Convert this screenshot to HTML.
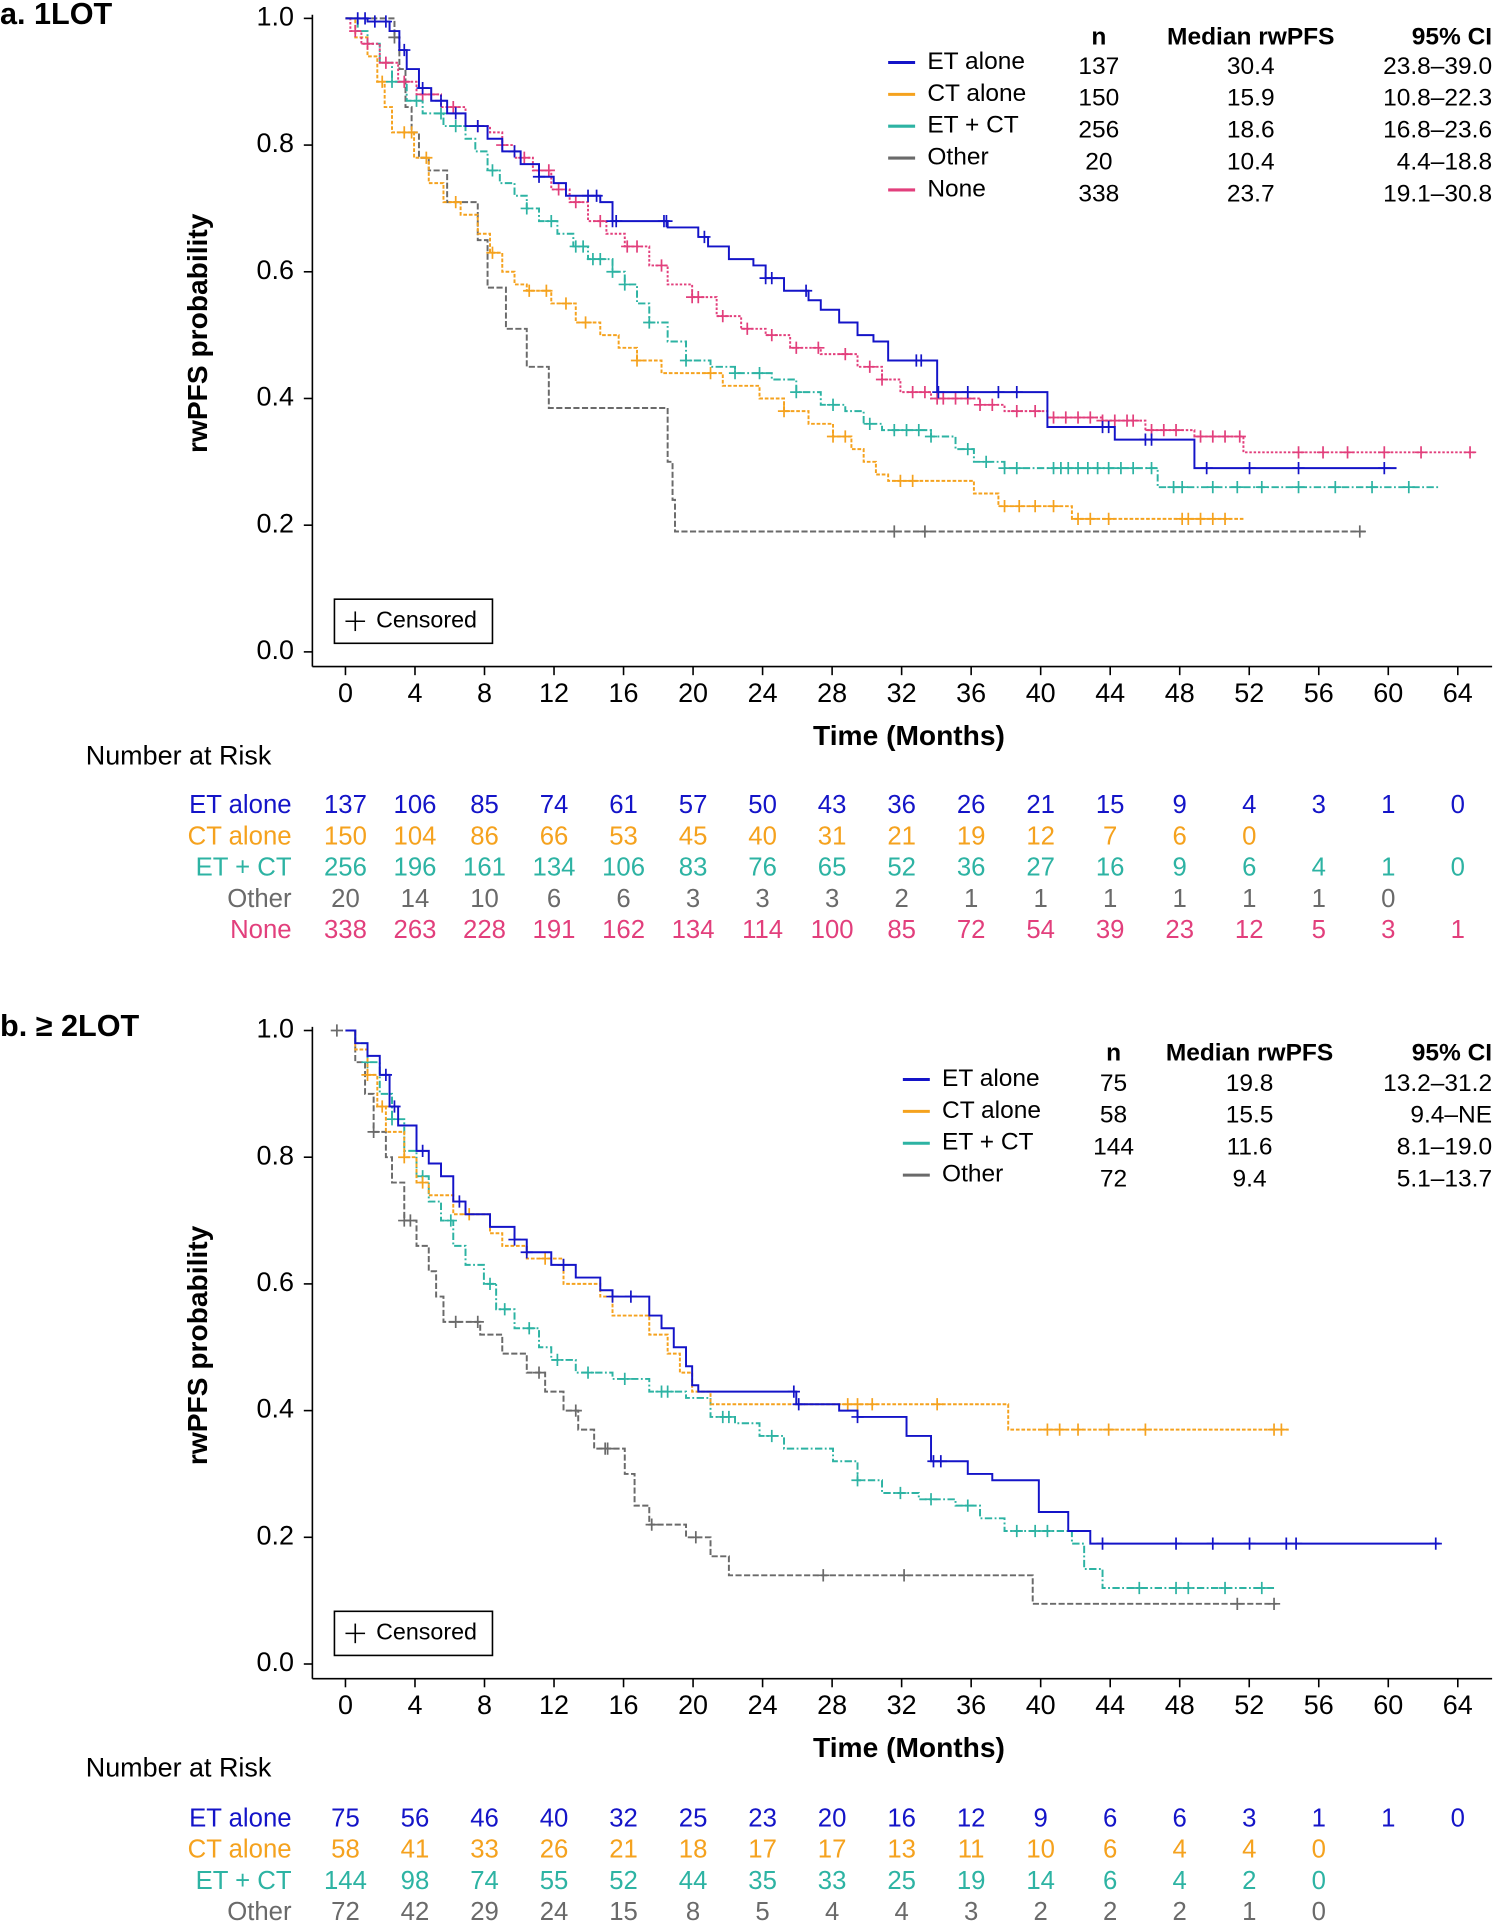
<!DOCTYPE html>
<html><head><meta charset="utf-8"><style>
html,body{margin:0;padding:0;background:#fff}
svg{display:block}
text{font-family:"Liberation Sans",Arial,sans-serif}
</style></head><body>
<svg id="s" width="1497" height="1925" viewBox="0 0 1222 1571" preserveAspectRatio="none" xmlns="http://www.w3.org/2000/svg">
</svg>
<script>
const NS="http://www.w3.org/2000/svg";const S=document.getElementById('s');
function el(n,a,t){const e=document.createElementNS(NS,n);for(const k in a)e.setAttribute(k,a[k]);if(t!==undefined)e.textContent=t;S.appendChild(e);return e;}
function txt(x,y,s,o){o=o||{};return el('text',Object.assign({x:x,y:y,'font-size':o.fs||20,fill:o.fill||'#000','text-anchor':o.a||'middle','font-weight':o.b?'bold':'normal','dominant-baseline':'middle'},o.extra||{}),s);}
const C={b:'#1414c8',o:'#f5a21e',t:'#2db3a3',g:'#6a6a6a',p:'#e23f7c'};
const D={b:'',o:'3,1.5',t:'6,2,1.5,2',g:'5,2',p:'2,1.5'};
function tx(t){return 282+14.1875*t;}
function panel(off,title,legend,risk,curves){
  const y0=532+off, H=517;
  const Y=v=>y0-v*H;
  txt(0,13+off,title,{a:'start',fs:25,b:true});
  el('line',{x1:255,y1:Y(1)-3,x2:255,y2:y0+12,stroke:'#000','stroke-width':1.3});
  el('line',{x1:255,y1:y0+12,x2:1218,y2:y0+12,stroke:'#000','stroke-width':1.3});
  for(let i=0;i<=5;i++){const v=i/5,y=Y(v);el('line',{x1:248,y1:y,x2:255,y2:y,stroke:'#000','stroke-width':1.3});txt(240,y,v.toFixed(1),{a:'end',fs:22});}
  for(let t=0;t<=64;t+=4){const x=tx(t);el('line',{x1:x,y1:y0+12,x2:x,y2:y0+19,stroke:'#000','stroke-width':1.3});txt(x,y0+35,String(t),{fs:22});}
  txt(742,y0+70,'Time (Months)',{fs:23,b:true});
  txt(163,272+off,'rwPFS probability',{fs:23,b:true,extra:{transform:`rotate(-90 163 ${272+off})`}});
  el('rect',{x:273,y:489+off,width:129,height:36,fill:'#fff',stroke:'#000','stroke-width':1.3});
  el('line',{x1:282,y1:507+off,x2:298,y2:507+off,stroke:'#000','stroke-width':1.3});
  el('line',{x1:290,y1:499+off,x2:290,y2:515+off,stroke:'#000','stroke-width':1.3});
  txt(307,507+off,'Censored',{a:'start',fs:19});
  const L=legend;
  txt(L.nx,L.hy,'n',{fs:20,b:true});txt(L.mx,L.hy,'Median rwPFS',{fs:20,b:true});txt(1218,L.hy,'95% CI',{fs:20,b:true,a:'end'});
  L.rows.forEach((r,i)=>{const y=L.ry+i*26;el('line',{x1:L.lx,y1:y,x2:L.lx+22,y2:y,stroke:C[r[0]],'stroke-width':2.5});
    txt(L.lx+32,y,r[1],{a:'start',fs:20});txt(L.nx,y+4,r[2],{fs:20});txt(L.mx,y+4,r[3],{fs:20});txt(1218,y+4,r[4],{fs:20,a:'end'});});
  curves.forEach(c=>{
    const p=c.pts;let d=`M${282},${Y(1)}`;
    for(const [x,v] of p){d+=` H${x} V${Y(v)}`;}
    d+=` H${c.end}`;
    el('path',{d:d,fill:'none',stroke:C[c.k],'stroke-width':1.6,'stroke-dasharray':D[c.k]});
    const sAt=x=>{let v=1;for(const [px,pv] of p){if(px<=x)v=pv;}return v;};
    (c.cen||[]).forEach(x=>{const y=Y(sAt(x));el('path',{d:`M${x-5},${y}H${x+5}M${x},${y-5}V${y+5}`,stroke:C[c.k],'stroke-width':1.4,fill:'none'});});
  });
  txt(70,risk.hy,'Number at Risk',{a:'start',fs:22});
  risk.rows.forEach((r,i)=>{const y=risk.ry+i*25.5;txt(238,y,r[1],{a:'end',fs:21,fill:C[r[0]]});
    r[2].forEach((v,j)=>{txt(tx(j*4),y,String(v),{fs:21,fill:C[r[0]]});});});
}
panel(0,'a. 1LOT',
 {nx:897,mx:1021,hy:31,ry:51,lx:725,rows:[['b','ET alone','137','30.4','23.8–39.0'],['o','CT alone','150','15.9','10.8–22.3'],['t','ET + CT','256','18.6','16.8–23.6'],['g','Other','20','10.4','4.4–18.8'],['p','None','338','23.7','19.1–30.8']]},
 {hy:618,ry:658,rows:[
  ['b','ET alone',[137,106,85,74,61,57,50,43,36,26,21,15,9,4,3,1,0]],
  ['o','CT alone',[150,104,86,66,53,45,40,31,21,19,12,7,6,0]],
  ['t','ET + CT',[256,196,161,134,106,83,76,65,52,36,27,16,9,6,4,1,0]],
  ['g','Other',[20,14,10,6,6,3,3,3,2,1,1,1,1,1,1,0]],
  ['p','None',[338,263,228,191,162,134,114,100,85,72,54,39,23,12,5,3,1]]]},
 [
 {k:'g',end:1115,pts:[[322,0.97],[326,0.92],[331,0.86],[336,0.82],[342,0.78],[350,0.76],[365,0.71],[390,0.65],[398,0.575],[413,0.51],[430,0.45],[448,0.385],[545,0.3],[549,0.24],[551,0.19]],cen:[322,730,755,1110]},
 {k:'o',end:1015,pts:[[290,0.97],[300,0.94],[308,0.9],[314,0.86],[320,0.82],[338,0.78],[350,0.74],[362,0.71],[376,0.69],[390,0.66],[400,0.63],[410,0.6],[420,0.58],[430,0.57],[450,0.55],[470,0.52],[490,0.5],[505,0.48],[520,0.46],[540,0.44],[590,0.42],[620,0.4],[640,0.38],[660,0.36],[680,0.34],[695,0.32],[705,0.3],[715,0.28],[725,0.27],[795,0.25],[815,0.23],[875,0.21]],cen:[312,330,336,348,372,402,432,446,462,478,520,580,640,680,690,735,745,820,832,845,860,880,890,905,965,970,980,990,1000]},
 {k:'t',end:1175,pts:[[292,0.98],[300,0.96],[310,0.93],[320,0.9],[332,0.87],[345,0.85],[362,0.83],[380,0.81],[388,0.79],[398,0.76],[408,0.74],[420,0.72],[430,0.7],[440,0.68],[455,0.66],[468,0.64],[480,0.62],[500,0.6],[510,0.58],[520,0.55],[530,0.52],[545,0.49],[560,0.46],[580,0.45],[600,0.44],[630,0.43],[650,0.41],[670,0.39],[690,0.38],[705,0.36],[720,0.35],[760,0.34],[780,0.32],[795,0.3],[820,0.29],[945,0.26]],cen:[320,340,360,372,402,430,450,470,476,484,490,500,510,530,560,600,620,650,680,710,730,740,750,760,790,805,820,830,860,866,872,880,888,896,905,915,925,940,958,965,990,1010,1030,1060,1090,1120,1150]},
 {k:'p',end:1205,pts:[[286,0.98],[295,0.96],[310,0.93],[325,0.9],[340,0.88],[360,0.86],[380,0.83],[400,0.82],[410,0.8],[420,0.78],[435,0.76],[450,0.73],[465,0.71],[480,0.68],[495,0.66],[510,0.64],[530,0.61],[545,0.58],[565,0.56],[585,0.53],[605,0.51],[625,0.5],[645,0.48],[670,0.47],[700,0.45],[720,0.43],[735,0.41],[760,0.4],[800,0.39],[820,0.38],[855,0.37],[900,0.365],[935,0.35],[975,0.34],[1015,0.315]],cen:[290,300,315,330,345,352,370,390,410,428,440,448,456,470,490,512,520,540,565,570,590,610,630,650,668,690,710,720,745,755,765,770,780,790,800,810,830,845,860,870,880,890,900,910,920,925,940,950,960,980,990,1000,1012,1060,1080,1100,1130,1160,1200]},
 {k:'b',end:1140,pts:[[300,0.995],[318,0.98],[326,0.95],[332,0.92],[342,0.89],[352,0.87],[365,0.85],[380,0.83],[398,0.81],[410,0.79],[425,0.77],[440,0.75],[452,0.74],[462,0.72],[490,0.71],[500,0.68],[545,0.67],[570,0.655],[578,0.64],[595,0.62],[615,0.61],[625,0.59],[640,0.57],[660,0.555],[670,0.54],[685,0.52],[700,0.5],[713,0.49],[725,0.46],[765,0.41],[855,0.355],[910,0.335],[975,0.29]],cen:[292,298,306,315,330,345,360,372,390,420,440,480,487,500,503,542,544,575,625,630,658,748,752,766,790,815,830,900,905,935,940,985,1020,1060,1130]}
 ]);
panel(826,'b. ≥ 2LOT',
 {nx:909,mx:1020,hy:860,ry:881,lx:737,rows:[['b','ET alone','75','19.8','13.2–31.2'],['o','CT alone','58','15.5','9.4–NE'],['t','ET + CT','144','11.6','8.1–19.0'],['g','Other','72','9.4','5.1–13.7']]},
 {hy:1444,ry:1485,rows:[
  ['b','ET alone',[75,56,46,40,32,25,23,20,16,12,9,6,6,3,1,1,0]],
  ['o','CT alone',[58,41,33,26,21,18,17,17,13,11,10,6,4,4,0]],
  ['t','ET + CT',[144,98,74,55,52,44,35,33,25,19,14,6,4,2,0]],
  ['g','Other',[72,42,29,24,15,8,5,4,4,3,2,2,2,1,0]]]},
 [
 {k:'g',end:1042,pts:[[290,0.95],[298,0.9],[305,0.84],[315,0.8],[320,0.76],[330,0.7],[340,0.66],[350,0.62],[356,0.58],[362,0.54],[392,0.52],[410,0.49],[430,0.46],[445,0.43],[460,0.4],[472,0.37],[485,0.34],[510,0.3],[518,0.25],[530,0.22],[560,0.2],[580,0.17],[595,0.14],[843,0.095]],cen:[275,305,330,335,372,390,440,470,494,496,532,568,672,738,1010,1040]},
 {k:'t',end:1040,pts:[[290,0.98],[300,0.95],[310,0.9],[320,0.86],[330,0.81],[340,0.77],[350,0.73],[360,0.7],[370,0.66],[380,0.63],[395,0.6],[405,0.56],[420,0.53],[440,0.5],[450,0.48],[470,0.46],[500,0.45],[530,0.43],[560,0.42],[580,0.39],[600,0.38],[620,0.36],[640,0.34],[680,0.32],[700,0.29],[720,0.27],[750,0.26],[780,0.25],[800,0.23],[820,0.21],[875,0.19],[885,0.15],[900,0.12]],cen:[300,320,345,368,400,412,432,455,480,510,540,545,590,595,630,700,735,760,790,830,845,855,930,960,970,1000,1030]},
 {k:'o',end:1052,pts:[[290,0.97],[300,0.93],[308,0.88],[315,0.84],[330,0.8],[340,0.76],[350,0.74],[370,0.71],[400,0.68],[410,0.66],[430,0.64],[460,0.6],[490,0.58],[500,0.55],[530,0.52],[545,0.49],[555,0.46],[565,0.43],[580,0.41],[823,0.37]],cen:[300,312,330,345,383,445,692,700,712,765,855,865,880,905,935,1040,1046]},
 {k:'b',end:1175,pts:[[290,0.98],[300,0.96],[310,0.93],[318,0.88],[325,0.85],[340,0.81],[350,0.79],[360,0.77],[370,0.73],[380,0.71],[400,0.69],[420,0.67],[430,0.65],[450,0.63],[470,0.61],[490,0.59],[500,0.58],[530,0.55],[540,0.53],[550,0.5],[560,0.47],[565,0.44],[570,0.43],[650,0.41],[685,0.4],[700,0.39],[740,0.36],[760,0.32],[790,0.3],[810,0.29],[848,0.24],[872,0.21],[890,0.19]],cen:[315,322,345,375,420,430,460,500,515,648,652,700,762,768,900,960,990,1020,1050,1058,1172]}
 ]);
</script>
</body></html>
